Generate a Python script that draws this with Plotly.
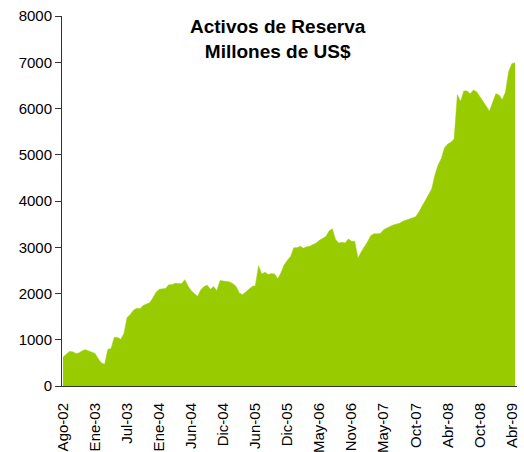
import plotly.graph_objects as go

# Reserve assets (millions of US$), sampled along the category axis
reservas = [
    620, 680, 745, 740, 705, 715, 760, 785, 760, 735,
    705, 590, 500, 470, 790, 810, 1050, 1050, 1010, 1130,
    1480, 1545, 1640, 1680, 1670, 1740, 1765, 1800, 1900, 2020,
    2090, 2095, 2110, 2190, 2190, 2220, 2220, 2210, 2300, 2160,
    2060, 1990, 1935, 2080, 2150, 2180, 2090, 2150, 2060, 2280,
    2270, 2255, 2250, 2210, 2150, 2010, 1975, 2030, 2100, 2150,
    2170, 2600, 2420, 2460, 2410, 2430, 2420, 2320, 2450, 2620,
    2720, 2800, 2990, 2990, 3020, 2980, 3010, 3020, 3060, 3090,
    3150, 3200, 3230, 3350, 3400, 3170, 3090, 3110, 3090, 3180,
    3130, 3130, 2760, 2900, 3000, 3120, 3250, 3290, 3290, 3300,
    3380, 3420, 3450, 3480, 3500, 3520, 3560, 3585, 3600, 3620,
    3660, 3760, 3890, 4010, 4120, 4260, 4560, 4780, 4920, 5150,
    5230, 5270, 5340, 6300, 6150, 6380, 6380, 6320, 6400, 6360,
    6260, 6140, 6050, 5940, 6120, 6320, 6290, 6190, 6350, 6800,
    6970, 6990,
]
indice = list(range(len(reservas)))

etiquetas = ["Ago-02", "Ene-03", "Jul-03", "Ene-04", "Jun-04", "Dic-04", "Jun-05",
             "Dic-05", "May-06", "Nov-06", "May-07", "Oct-07", "Abr-08", "Oct-08", "Abr-09"]
pos_etiquetas = [i * 10 for i in range(len(etiquetas))]

titulo = "Activos de Reserva<br>Millones de US$"

fig = go.Figure()
fig.add_trace(go.Scatter(
    x=indice, y=reservas, mode="lines",
    line=dict(color="#99CC00", width=0.5),
    fill="tozeroy", fillcolor="#99CC00",
    hoverinfo="skip", showlegend=False,
))

fig.update_layout(
    width=524, height=452,
    margin=dict(l=62, r=7, t=16, b=66),
    paper_bgcolor="white", plot_bgcolor="white",
    font=dict(family="Liberation Sans, Arial, sans-serif", size=15, color="black"),
    xaxis=dict(
        range=[-0.3, 141.6], tickmode="array", tickvals=pos_etiquetas, ticktext=etiquetas,
        tickangle=-90, showgrid=False, zeroline=False, automargin=False,
        showline=True, linecolor="#333333", linewidth=1,
        ticks="", ticklabelstandoff=10,
        tickfont=dict(size=15),
    ),
    yaxis=dict(
        range=[0, 8000], tickmode="array", tickvals=[0, 1000, 2000, 3000, 4000, 5000, 6000, 7000, 8000],
        showgrid=False, zeroline=False, automargin=False,
        showline=True, linecolor="#333333", linewidth=1,
        ticks="outside", ticklen=6, tickcolor="#333333",
        tickfont=dict(size=15),
    ),
    annotations=[dict(
        text="<b>" + titulo + "</b>", xref="paper", yref="paper",
        x=0.475, y=0.937, xanchor="center", yanchor="middle",
        showarrow=False, font=dict(size=19, color="black"),
    )],
)

fig.write_html(
    "out.html",
    config={"displayModeBar": False},
    post_script="document.body.style.margin='0';document.body.style.padding='0';",
)
